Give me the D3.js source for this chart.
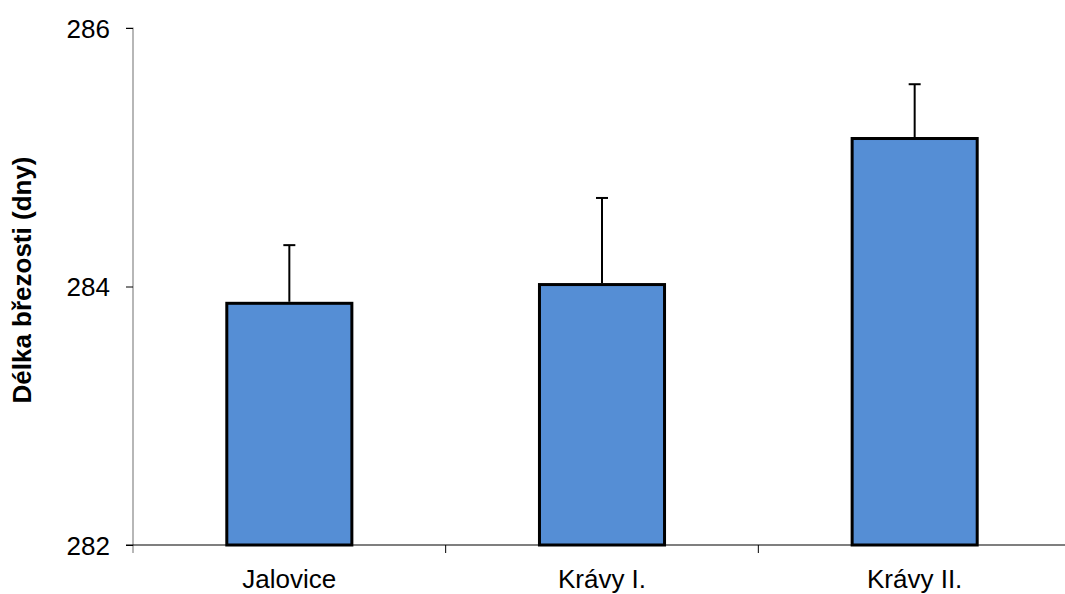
<!DOCTYPE html>
<html><head><meta charset="utf-8">
<script src="https://cdn.jsdelivr.net/npm/d3@7"></script>
<style>body{margin:0;background:#fff}</style>
</head><body><svg id="c" width="1065" height="594"></svg>
<script>
const categories = ["Jalovice", "Krávy I.", "Krávy II."];
const values = [283.87, 284.015, 285.145];
const errors = [0.45, 0.67, 0.42];
const yTicks = [282, 284, 286];

const svg = d3.select("#c");
const m = {left: 133, right: 1071, top: 28, bottom: 545};
const x = d3.scaleBand().domain(categories).range([m.left, m.right]).paddingInner(0.6).paddingOuter(0.3);
const xb = d3.scaleBand().domain(categories).range([m.left, m.right]);
const y = d3.scaleLinear().domain([282, 286]).range([m.bottom, m.top]);
const font = "Liberation Sans, Arial, sans-serif";

// bars
svg.selectAll("rect.bar").data(categories).join("rect")
  .attr("x", d => x(d)).attr("width", x.bandwidth())
  .attr("y", (d,i) => y(values[i])).attr("height", (d,i) => y(282) - y(values[i]))
  .attr("fill", "#558ed5").attr("stroke", "#000").attr("stroke-width", 3);

// error bars
const eg = svg.selectAll("g.err").data(categories).join("g");
eg.append("line")
  .attr("x1", d => x(d) + x.bandwidth()/2).attr("x2", d => x(d) + x.bandwidth()/2)
  .attr("y1", (d,i) => y(values[i]) - 1.5).attr("y2", (d,i) => y(values[i] + errors[i]))
  .attr("stroke", "#000").attr("stroke-width", 2);
eg.append("line")
  .attr("x1", d => x(d) + x.bandwidth()/2 - 6).attr("x2", d => x(d) + x.bandwidth()/2 + 6)
  .attr("y1", (d,i) => y(values[i] + errors[i])).attr("y2", (d,i) => y(values[i] + errors[i]))
  .attr("stroke", "#000").attr("stroke-width", 2);

// y axis
const ya = svg.append("g").attr("transform", `translate(${m.left},0)`)
  .call(d3.axisLeft(y).tickValues(yTicks).tickSize(7).tickPadding(16).tickFormat(d3.format("d")));
ya.select(".domain").attr("stroke", "#888").attr("stroke-width", 1.2).attr("d", `M-7,${m.top}H0V${m.bottom + 8}`);
ya.selectAll(".tick line").attr("stroke", "#000");
ya.selectAll("text").attr("font-family", font).attr("font-size", 26).attr("fill", "#000").attr("dy", "0.35em");

// x axis
const xa = svg.append("g").attr("transform", `translate(0,${m.bottom})`);
xa.append("line").attr("x1", m.left - 7).attr("x2", m.right).attr("y1", 0).attr("y2", 0).attr("stroke", "#000").attr("stroke-width", 1.2);
const bounds = categories.map(c => xb(c)).concat([m.right]);
xa.selectAll("line.tk").data(bounds.slice(1)).join("line")
  .attr("x1", d => d).attr("x2", d => d).attr("y1", 0).attr("y2", 8).attr("stroke", "#000");
xa.selectAll("text").data(categories).join("text")
  .attr("x", d => xb(d) + xb.bandwidth()/2).attr("y", 43)
  .attr("text-anchor", "middle").attr("font-family", font).attr("font-size", 26).attr("fill", "#000")
  .text(d => d);

// y label
svg.append("text").attr("transform", "translate(31,280) rotate(-90)")
  .attr("text-anchor", "middle").attr("font-family", font).attr("font-size", 26).attr("font-weight", "bold")
  .text("Délka březosti (dny)");
</script></body></html>
